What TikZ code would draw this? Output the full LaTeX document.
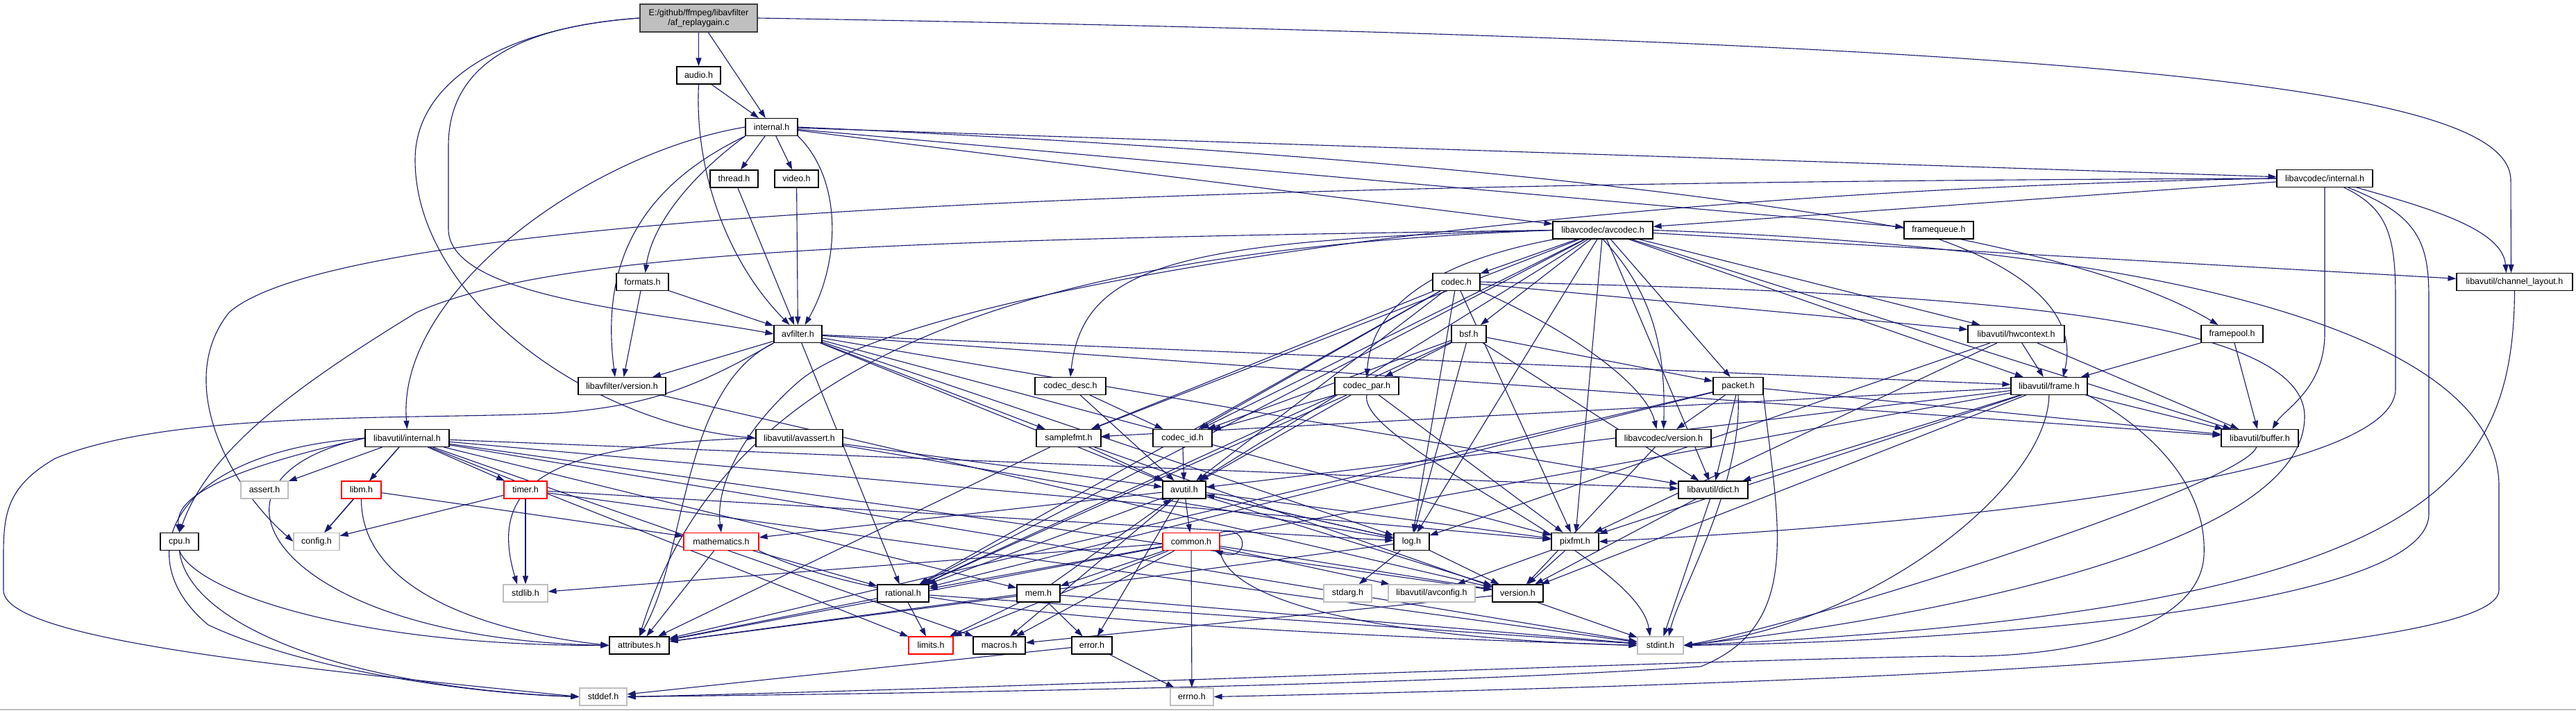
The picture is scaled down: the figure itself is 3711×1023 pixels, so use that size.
\documentclass[tikz,border=0pt]{standalone}
\usepackage{fontspec}
\setmainfont{Liberation Sans}
\usetikzlibrary{arrows.meta}
\definecolor{edgec}{HTML}{191970}
\definecolor{grayb}{HTML}{BFBFBF}
\definecolor{mainfill}{HTML}{BFBFBF}
\definecolor{maindraw}{HTML}{404040}
\definecolor{redb}{HTML}{FF0000}
\pgfdeclarelayer{bg}
\pgfdeclarelayer{edges}
\pgfsetlayers{bg,edges,main}
\tikzset{
  nd/.style={draw=black, line width=1.1pt, fill=white, minimum height=25pt, inner sep=0pt, font=\fontsize{12.5}{14}\selectfont},
  rnd/.style={nd, draw=redb},
  gnd/.style={nd, draw=grayb},
  mnd/.style={nd, fill=mainfill, draw=maindraw, minimum height=40pt, align=center},
  e/.style={draw=edgec, line width=1.1pt, -{Triangle[length=12pt,width=8pt]}}
}
\begin{document}
\begin{tikzpicture}[x=1pt,y=-1pt]
\useasboundingbox (0,0) rectangle (3711,1023);
\begin{pgfonlayer}{bg}
\fill[white] (0,0) rectangle (3711,1023);
\draw[grayb, line width=2pt] (0,1022) -- (3711,1022);
\end{pgfonlayer}
% nodes
\node[mnd, minimum width=169pt] (m) at (1006.5,26) {E:/github/ffmpeg/libavfilter\\/af\_replaygain.c};
\node[nd, minimum width=63pt] (audio) at (1006.5,108.5) {audio.h};
\node[nd, minimum width=75pt] (intl) at (1111.5,183) {internal.h};
\node[nd, minimum width=69pt] (thread) at (1057.5,257.5) {thread.h};
\node[nd, minimum width=63pt] (video) at (1147.5,257.5) {video.h};
\node[nd, minimum width=144pt] (avcodec) at (2309,331.5) {libavcodec/avcodec.h};
\node[nd, minimum width=138pt] (lcint) at (3349,257) {libavcodec/internal.h};
\node[nd, minimum width=100pt] (fq) at (2793,331.5) {framequeue.h};
\node[nd, minimum width=167pt] (chl) at (3622.5,406) {libavutil/channel\_layout.h};
\node[nd, minimum width=68pt] (codec) at (2098,406) {codec.h};
\node[nd, minimum width=50pt] (bsf) at (2116,481) {bsf.h};
\node[nd, minimum width=92pt] (cpar) at (1969,556) {codec\_par.h};
\node[nd, minimum width=72pt] (packet) at (2504,556) {packet.h};
\node[nd, minimum width=137pt] (lcver) at (2396.5,631) {libavcodec/version.h};
\node[nd, minimum width=139pt] (hw) at (2904.5,481) {libavutil/hwcontext.h};
\node[nd, minimum width=89pt] (fp) at (3215.5,481) {framepool.h};
\node[nd, minimum width=110pt] (frame) at (2952,556) {libavutil/frame.h};
\node[nd, minimum width=111pt] (buffer) at (3255.5,631) {libavutil/buffer.h};
\node[nd, minimum width=75pt] (formats) at (925.5,406) {formats.h};
\node[nd, minimum width=69pt] (avf) at (1149.5,481) {avfilter.h};
\node[nd, minimum width=126pt] (lfver) at (896,556) {libavfilter/version.h};
\node[nd, minimum width=102pt] (cdesc) at (1542,556) {codec\_desc.h};
\node[nd, minimum width=125pt] (avassert) at (1151.5,631) {libavutil/avassert.h};
\node[nd, minimum width=93pt] (sfmt) at (1539.5,631) {samplefmt.h};
\node[nd, minimum width=85pt] (cid) at (1703.5,631) {codec\_id.h};
\node[nd, minimum width=121pt] (lui) at (586.5,631) {libavutil/internal.h};
\node[nd, minimum width=62pt] (avutil) at (1706,705.5) {avutil.h};
\node[nd, minimum width=100pt] (dict) at (2468,705.5) {libavutil/dict.h};
\node[gnd, minimum width=68pt] (assert) at (381,705.5) {assert.h};
\node[rnd, minimum width=57pt] (libm) at (520.5,705.5) {libm.h};
\node[rnd, minimum width=62pt] (timer) at (757,705.5) {timer.h};
\node[nd, minimum width=55pt] (cpu) at (258.5,780) {cpu.h};
\node[gnd, minimum width=66pt] (config) at (456,780) {config.h};
\node[gnd, minimum width=64pt] (stdlib) at (757,854.5) {stdlib.h};
\node[nd, minimum width=86pt] (attr) at (921,929.5) {attributes.h};
\node[gnd, minimum width=68pt] (stddef) at (869,1003.5) {stddef.h};
\node[rnd, minimum width=108pt] (math) at (1039,780) {mathematics.h};
\node[nd, minimum width=74pt] (rational) at (1301,854.5) {rational.h};
\node[nd, minimum width=62pt] (mem) at (1496,854.5) {mem.h};
\node[rnd, minimum width=82pt] (common) at (1716,780) {common.h};
\node[rnd, minimum width=64pt] (limits) at (1341,929.5) {limits.h};
\node[nd, minimum width=75pt] (macros) at (1439.5,929.5) {macros.h};
\node[nd, minimum width=58pt] (error) at (1573,929.5) {error.h};
\node[gnd, minimum width=62pt] (errno) at (1717,1003.5) {errno.h};
\node[nd, minimum width=51pt] (log) at (2033.5,780) {log.h};
\node[nd, minimum width=68pt] (pixfmt) at (2269,780) {pixfmt.h};
\node[gnd, minimum width=69pt] (stdarg) at (1941.5,854.5) {stdarg.h};
\node[gnd, minimum width=125pt] (avconfig) at (2062.5,854.5) {libavutil/avconfig.h};
\node[nd, minimum width=73pt] (ver) at (2186.5,854.5) {version.h};
\node[gnd, minimum width=66pt] (stdint) at (2392,929.5) {stdint.h};

\begin{pgfonlayer}{edges}
% main
\draw[e] (m) -- (audio);
\draw[e] (m) -- (intl);
\draw[e] (m.east) .. controls (3100,60) and (3617,130) .. (3617,260) -- ([xshift=-5pt]chl.north);
\draw[e] (m.west) .. controls (720,40) and (646,110) .. (646,210) -- (646,330) .. controls (646,430) and (950,450) .. (avf.west);
\draw[e] (m.west) .. controls (720,40) and (598,120) .. (598,230) .. controls (598,430) and (850,610) .. (avassert.west);
% audio
\draw[e] (audio) -- (intl);
\draw[e] (audio.south) .. controls (1000,250) and (1050,380) .. ([xshift=-12pt]avf.north);
% internal.h
\draw[e] (intl) -- (thread);
\draw[e] (intl) -- (video);
\draw[e] (intl.south east) .. controls (1215,260) and (1210,380) .. ([xshift=10pt]avf.north);
\draw[e] (intl.south west) .. controls (1000,250) and (940,320) .. ([xshift=4pt]formats.north);
\draw[e] (intl.south west) .. controls (920,270) and (865,380) .. ([xshift=-10pt]lfver.north);
\draw[e] (intl.west) .. controls (850,220) and (570,420) .. (lui.north);
\draw[e] (intl) -- (avcodec);
\draw[e] (intl) -- (lcint);
\draw[e] (intl) -- (fq);
\draw[e] (intl.east) .. controls (2200,230) and (2950,320) .. ([xshift=-20pt]fp.north);
% formats, thread, video
\draw[e] (formats) -- (avf);
\draw[e] (formats) -- (lfver);
\draw[e] (thread) -- (avf);
\draw[e] (video) -- (avf);
% avfilter.h
\draw[e] (avf) -- (lfver);
\draw[e] (avf.south west) .. controls (980,560) and (990,800) .. (attr.north);
\draw[e] (avf) -- (avutil);
\draw[e] (avf) -- (buffer);
\draw[e] (avf) -- (dict);
\draw[e] (avf) -- (frame);
\draw[e] (avf) -- (log);
\draw[e] (avf) -- (sfmt);
\draw[e] (avf) -- (pixfmt);
\draw[e] (avf) -- (rational);
\draw[e] (avf.south west) .. controls (1000,560) and (930,585) .. (800,595) .. controls (600,605) and (250,590) .. (80,660) .. controls (10,700) and (5,740) .. (5,800) -- (5,850) .. controls (5,920) and (400,960) .. (stddef.west);
% avcodec.h
\draw[e] (avcodec) -- (codec);
\draw[e] (avcodec) -- (bsf);
\draw[e] (avcodec) -- (packet);
\draw[e] (avcodec.south) .. controls (2380,420) and (2400,500) .. (lcver.north);
\draw[e] (avcodec) .. controls (2050,380) and (1975,450) .. (cpar.north);
\draw[e] (avcodec.west) .. controls (1700,345) and (1560,380) .. (cdesc.north);
\draw[e] (avcodec) -- (cid);
\draw[e] (avcodec) -- (sfmt);
\draw[e] (avcodec) -- (avutil);
\draw[e] (avcodec) -- (log);
\draw[e] (avcodec) -- (pixfmt);
\draw[e] (avcodec) -- (dict);
\draw[e] (avcodec) -- (frame);
\draw[e] (avcodec) -- (hw);
\draw[e] (avcodec) -- (buffer);
\draw[e] (avcodec) -- (chl);
\draw[e] (avcodec) -- (rational);
\draw[e] (avcodec.west) .. controls (1500,360) and (1050,500) .. (attr.north);
\draw[e] (avcodec.west) .. controls (1300,345) and (800,360) .. (600,450) .. controls (420,560) and (300,650) .. (cpu.north);
\draw[e] (avcodec.east) .. controls (3200,360) and (3600,500) .. (3600,700) -- (3600,850) .. controls (3600,950) and (2600,985) .. (errno.east);
% libavcodec/internal.h
\draw[e] (lcint) -- (avcodec);
\draw[e] (lcint.south) -- (3349,480) .. controls (3349,560) and (3290,590) .. ([xshift=18pt]buffer.north);
\draw[e] (lcint) .. controls (3500,300) and (3605,330) .. ([xshift=-12pt]chl.north);
\draw[e] (lcint) .. controls (3440,300) and (3451,340) .. (3451,430) -- (3451,560) .. controls (3451,700) and (2700,760) .. (pixfmt.east);
\draw[e] (lcint) .. controls (3485,310) and (3499,350) .. (3499,430) -- (3499,740) .. controls (3499,880) and (2800,925) .. (stdint.east);
\draw[e] (lcint.west) .. controls (2200,275) and (1300,420) .. (1150,550) .. controls (1070,620) and (1030,700) .. (math.north);
\draw[e] (lcint.west) .. controls (1800,262) and (500,300) .. (330,450) .. controls (250,550) and (330,700) .. (config.west);
% codec.h
\draw[e] (codec) -- (hw);
\draw[e] (codec.south east) .. controls (2250,470) and (2370,550) .. ([xshift=-10pt]lcver.north);
\draw[e] (codec) -- (cid);
\draw[e] (codec) -- (sfmt);
\draw[e] (codec) -- (avutil);
\draw[e] (codec) -- (log);
\draw[e] (codec) -- (pixfmt);
\draw[e] (codec) -- (rational);
\draw[e] (codec.east) .. controls (2800,420) and (3320,450) .. (3320,600) .. controls (3320,800) and (2700,900) .. (stdint.east);
% bsf.h
\draw[e] (bsf) -- (cpar);
\draw[e] (bsf) -- (packet);
\draw[e] (bsf) -- (cid);
\draw[e] (bsf) -- (log);
\draw[e] (bsf) -- (rational);
\draw[e] (bsf) -- (dict);
% codec_desc.h
\draw[e] (cdesc) -- (cid);
\draw[e] (cdesc) -- (avutil);
% codec_par.h
\draw[e] (cpar) -- (cid);
\draw[e] (cpar) -- (avutil);
\draw[e] (cpar) -- (rational);
\draw[e] (cpar) -- (pixfmt);
\draw[e] (cpar.south) .. controls (1955,640) and (2360,800) .. ([xshift=-15pt]stdint.north);
% packet.h
\draw[e] (packet) -- (lcver);
\draw[e] (packet) -- (dict);
\draw[e] (packet) -- (buffer);
\draw[e] (packet) -- (rational);
\draw[e] (packet) -- (attr);
\draw[e] (packet.south) .. controls (2510,700) and (2420,850) .. ([xshift=12pt]stdint.north);
\draw[e] (packet.south east) .. controls (2560,750) and (2600,900) .. (2450,960) .. controls (2000,990) and (1200,1000) .. (stddef.east);
% libavcodec/version.h
\draw[e] (lcver) -- (ver);
% hwcontext.h
\draw[e] (hw) -- (frame);
\draw[e] (hw) -- (buffer);
\draw[e] (hw) -- (log);
\draw[e] (hw) -- (pixfmt);
% framepool.h, framequeue.h
\draw[e] (fp) -- (buffer);
\draw[e] (fp) -- (frame);
\draw[e] (fq.south) .. controls (2950,400) and (2990,470) .. ([xshift=20pt]frame.north);
% frame.h
\draw[e] (frame) -- (buffer);
\draw[e] (frame) -- (dict);
\draw[e] (frame) -- (avutil);
\draw[e] (frame) -- (sfmt);
\draw[e] (frame) -- (pixfmt);
\draw[e] (frame) -- (rational);
\draw[e] (frame) -- (ver);
\draw[e] (frame) .. controls (2950,700) and (2700,900) .. (stdint.east);
\draw[e] (frame.south east) .. controls (3100,620) and (3180,700) .. (3175,800) .. controls (3170,900) and (3000,950) .. (2800,945) .. controls (2300,955) and (1500,990) .. (stddef.east);
% buffer.h, channel_layout.h
\draw[e] (buffer) .. controls (3230,700) and (2600,900) .. (stdint.east);
\draw[e] (chl.south) .. controls (3620,700) and (3500,880) .. (stdint.east);
% dict.h
\draw[e] (dict) -- (stdint);
\draw[e] (dict) -- (ver);
% samplefmt.h
\draw[e] (sfmt) -- (stdint);
\draw[e] (sfmt) -- (avutil);
\draw[e] (sfmt) -- (attr);
% codec_id.h
\draw[e] (cid) -- (avutil);
% avassert.h
\draw[e] (avassert) -- (avutil);
\draw[e] (avassert) -- (log);
\draw[e] (avassert.west) .. controls (800,640) and (700,690) .. ([xshift=-12pt]stdlib.north);
% libavutil/internal.h
\draw[e] (lui) -- (assert);
\draw[e] (lui) -- (libm);
\draw[e] (lui) -- (timer);
\draw[e] (lui) -- (config);
\draw[e] (lui.west) .. controls (400,660) and (250,700) .. (cpu.north);
\draw[e] (lui.west) .. controls (250,690) and (400,920) .. (attr.west);
\draw[e] (lui.west) .. controls (250,650) and (180,800) .. (300,900) .. controls (450,970) and (700,1000) .. (stddef.west);
\draw[e] (lui) -- (limits);
\draw[e] (lui) -- (mem);
\draw[e] (lui) -- (dict);
\draw[e] (lui) -- (pixfmt);
\draw[e] (lui) -- (ver);
\draw[e] (lui) -- (stdint);
\draw[e] (lui) -- (macros);
% libm.h
\draw[e] (libm) -- (config);
\draw[e] (libm.south) .. controls (520,850) and (700,910) .. (attr.west);
\draw[e] (libm) -- (math);
% timer.h
\draw[e] (timer) -- (config);
\draw[e] (timer) -- (stdlib);
\draw[e] (timer) -- (log);
\draw[e] (timer) -- (stdint);
% cpu.h
\draw[e] (cpu.south) .. controls (270,900) and (500,990) .. (stddef.west);
\draw[e] (cpu.south) .. controls (280,850) and (500,930) .. (attr.west);
% mathematics.h
\draw[e] (math) -- (attr);
\draw[e] (math) -- (rational);
\draw[e] (math.south east) .. controls (1250,870) and (1600,905) .. (stdint.west);
% rational.h
\draw[e] (rational) -- (limits);
\draw[e] (rational) -- (attr);
\draw[e] (rational) -- (stdint);
% mem.h
\draw[e] (mem) -- (limits);
\draw[e] (mem) -- (attr);
\draw[e] (mem) -- (error);
\draw[e] (mem) -- (stdint);
\draw[e] (mem) -- (avutil);
% common.h
\draw[e] (common) -- (errno);
\draw[e] (common) -- (limits);
\draw[e] (common) -- (macros);
\draw[e] (common) -- (attr);
\draw[e] (common) -- (mem);
\draw[e] (common) -- (stdlib);
\draw[e] (common) -- (ver);
\draw[e] (common) -- (avconfig);
\draw[e] (common.south east) .. controls (1770,870) and (2000,920) .. (stdint.west);
\draw[e] (common.north east) .. controls (1800,755) and (1800,810) .. ([xshift=-8pt]common.south east);
% avutil.h
\draw[e] (avutil) -- (common);
\draw[e] (avutil) -- (error);
\draw[e] (avutil) -- (macros);
\draw[e] (avutil) -- (math);
\draw[e] (avutil) -- (rational);
\draw[e] (avutil) -- (ver);
\draw[e] (avutil) -- (log);
\draw[e] (avutil) -- (pixfmt);
% error.h
\draw[e] (error) -- (errno);
\draw[e] (error) -- (stddef);
% log.h
\draw[e] (log) -- (stdarg);
\draw[e] (log) -- (avutil);
\draw[e] (log) -- (attr);
\draw[e] (log) -- (ver);
% pixfmt.h, version.h, libavfilter/version.h
\draw[e] (pixfmt) -- (avconfig);
\draw[e] (pixfmt) -- (ver);
\draw[e] (ver) -- (macros);
\draw[e] (lfver) -- (ver);
\end{pgfonlayer}
\end{tikzpicture}
\end{document}
